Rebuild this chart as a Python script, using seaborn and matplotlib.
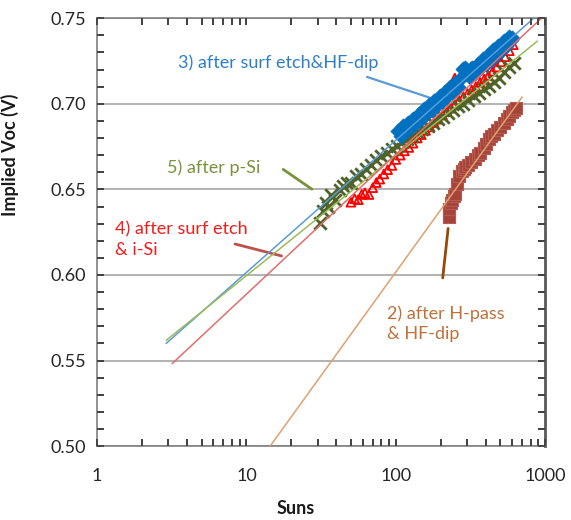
import matplotlib
matplotlib.use("Agg")
import matplotlib.pyplot as plt
import seaborn as sns
from matplotlib.ticker import MultipleLocator, LogLocator, FixedLocator, FixedFormatter, NullFormatter

# 3) after surf etch & HF-dip (blue diamonds)
blue_suns = [104, 108, 112, 117, 121, 126, 131, 136, 142, 148, 154, 160, 167, 174, 181, 188,
             196, 204, 212, 221, 230, 240, 250, 260, 271, 282, 290, 300, 312, 325, 338, 352,
             367, 382, 398, 414, 431, 449, 467, 486, 506, 527, 549, 571, 590, 600]
blue_voc = [0.6840, 0.6812, 0.6869, 0.6843, 0.6889, 0.6862, 0.6914, 0.6887, 0.6940, 0.6914,
            0.6972, 0.6939, 0.6993, 0.6966, 0.7019, 0.6991, 0.7044, 0.7018, 0.7070, 0.7043,
            0.7096, 0.7070, 0.7123, 0.7096, 0.7149, 0.7205, 0.7212, 0.7192, 0.7154, 0.7208,
            0.7180, 0.7234, 0.7207, 0.7260, 0.7233, 0.7286, 0.7258, 0.7312, 0.7285, 0.7338,
            0.7311, 0.7364, 0.7337, 0.7390, 0.7370, 0.7386]

# 4) after surf etch & i-Si (open red triangles)
red_suns = [50, 53, 56, 59, 62, 66, 70, 74, 78, 83, 88, 94, 100, 107, 114, 122, 130, 139, 148,
            158, 169, 180, 192, 205, 219, 233, 248, 265, 283, 302, 322, 343, 366, 390, 416,
            444, 473, 505, 538, 574, 610, 248]
red_voc = [0.6425, 0.6445, 0.6440, 0.6470, 0.6480, 0.6470, 0.6510, 0.6540, 0.6560, 0.6590,
           0.6615, 0.6640, 0.6675, 0.6700, 0.6725, 0.6745, 0.6770, 0.6800, 0.6820, 0.6845,
           0.6865, 0.6890, 0.6910, 0.6935, 0.6955, 0.6975, 0.6995, 0.7020, 0.7040, 0.7060,
           0.7080, 0.7100, 0.7125, 0.7145, 0.7165, 0.7190, 0.7215, 0.7245, 0.7275, 0.7310,
           0.7345, 0.7150]

# 5) after p-Si (olive crosses)
green_suns = [31, 32.5, 34, 35, 37, 39, 42, 44, 47, 50, 54, 58, 63, 68, 74, 80, 87, 94, 101,
              110, 119, 128, 139, 150, 163, 176, 190, 206, 223, 241, 261, 283, 306, 331, 358,
              388, 420, 454, 491, 532, 575, 620, 322, 345, 377]
green_voc = [0.6305, 0.6375, 0.6420, 0.6395, 0.6465, 0.6440, 0.6495, 0.6520, 0.6540, 0.6535,
             0.6580, 0.6590, 0.6620, 0.6645, 0.6670, 0.6696, 0.6715, 0.6735, 0.6754, 0.6775,
             0.6795, 0.6810, 0.6835, 0.6855, 0.6870, 0.6890, 0.6910, 0.6925, 0.6945, 0.6965,
             0.6985, 0.7000, 0.7020, 0.7045, 0.7065, 0.7085, 0.7105, 0.7125, 0.7150, 0.7185,
             0.7215, 0.7240, 0.7200, 0.7210, 0.7220]

# 2) after H-pass & HF-dip (brown squares)
brown_suns = [225, 228, 232, 238, 243, 249, 256, 265, 276, 285, 291, 305, 320, 339, 355, 367,
              387, 400, 418, 435, 451, 475, 500, 527, 550, 569, 595, 615, 637]
brown_voc = [0.6340, 0.6385, 0.6420, 0.6440, 0.6460, 0.6475, 0.6530, 0.6580, 0.6605, 0.6620,
             0.6628, 0.6645, 0.6660, 0.6675, 0.6700, 0.6715, 0.6744, 0.6765, 0.6793, 0.6810,
             0.6825, 0.6845, 0.6862, 0.6890, 0.6910, 0.6929, 0.6950, 0.6963, 0.6977]

# trend lines (end points)
blue_fit_suns, blue_fit_voc = [2.9, 1000], [0.560, 0.756]
green_fit_suns, green_fit_voc = [2.9, 885], [0.5618, 0.7366]
red_fit_suns, red_fit_voc = [3.18, 1000], [0.5482, 0.7521]
brown_fit_suns, brown_fit_voc = [14.4, 700], [0.500, 0.704]

x_ticks = [1, 10, 100, 1000]
x_labels = ["1", "10", "100", "1000"]

sns.set_theme(style="ticks")
plt.rcParams["font.family"] = ["Lato", "DejaVu Sans"]

rect = [0.170, 0.142, 0.785, 0.823]
fig = plt.figure(figsize=(5.71, 5.20), dpi=100)
ax = fig.add_axes(rect)

sns.scatterplot(x=red_suns, y=red_voc, marker="^", s=40, facecolor="none",
                edgecolor="#FF0000", linewidth=1.3, ax=ax, zorder=3)
sns.scatterplot(x=green_suns, y=green_voc, marker="x", s=80, color="#4F6228",
                linewidth=2, ax=ax, zorder=4)
sns.scatterplot(x=blue_suns, y=blue_voc, marker="D", s=60, color="#0070C0",
                edgecolor="#0070C0", linewidth=0.5, ax=ax, zorder=5)
sns.scatterplot(x=brown_suns, y=brown_voc, marker="s", s=75, color="#A3453A",
                edgecolor="#BA5A4E", linewidth=0.8, ax=ax, zorder=5)

for xs, ys, c in [(blue_fit_suns, blue_fit_voc, "#5B9BD5"),
                  (green_fit_suns, green_fit_voc, "#9BBB59"),
                  (red_fit_suns, red_fit_voc, "#E46C6C"),
                  (brown_fit_suns, brown_fit_voc, "#E0A070")]:
    sns.lineplot(x=xs, y=ys, color=c, lw=1.1, sort=False, estimator=None, ax=ax, zorder=6)


def setup_axis(a):
    a.set_xscale("log")
    a.set_xlim(1, 1000)
    a.set_ylim(0.50, 0.75)
    a.xaxis.set_major_locator(FixedLocator(x_ticks))
    a.xaxis.set_major_formatter(FixedFormatter(x_labels))
    a.xaxis.set_minor_locator(LogLocator(base=10, subs=range(2, 10)))
    a.xaxis.set_minor_formatter(NullFormatter())
    a.yaxis.set_major_locator(MultipleLocator(0.05))
    a.yaxis.set_minor_locator(MultipleLocator(0.01))
    a.yaxis.set_major_formatter(plt.FormatStrFormatter("%.2f"))
    a.tick_params(which="both", direction="in", bottom=True, left=True, top=True,
                  right=True, length=5, width=1.2, color="#404040", labelsize=13)


setup_axis(ax)
ax.tick_params(axis="x", which="major", pad=16)
ax.tick_params(axis="y", which="major", pad=8)
ax.grid(axis="y", which="major", color="#A6A6A6", lw=1.2)

for side in ["left", "top", "bottom"]:
    ax.spines[side].set_color("#7F7F7F")
    ax.spines[side].set_linewidth(1.2)
ax.spines["right"].set_color("#595959")
ax.spines["right"].set_linewidth(2)

ax.set_xlabel("Suns", fontsize=13, fontweight="bold", color="#1a1a1a")
ax.set_ylabel("Implied Voc (V)", fontsize=13, fontweight="bold", color="#1a1a1a")
ax.xaxis.set_label_coords(0.444, -0.125)
ax.yaxis.set_label_coords(-0.175, 0.68)

# annotations
ax.text(3.5, 0.724, "3) after surf etch&HF-dip", color="#2E7FC8", fontsize=13, va="center")
ax.annotate("", xy=(179, 0.7028), xytext=(61.5, 0.7162),
            arrowprops=dict(arrowstyle="-", color="#5B9BD5", lw=1.6))
ax.text(2.94, 0.6628, "5) after p-Si", color="#77933C", fontsize=13, va="center")
ax.annotate("", xy=(28.4, 0.6492), xytext=(17.0, 0.6626),
            arrowprops=dict(arrowstyle="-", color="#77933C", lw=2))
ax.text(1.32, 0.6207, "4) after surf etch\n& i-Si", color="#F21C1C", fontsize=13,
        va="center", linespacing=1.3)
ax.annotate("", xy=(17.9, 0.6107), xytext=(8.05, 0.6185),
            arrowprops=dict(arrowstyle="-", color="#C0504D", lw=2))
ax.text(87.8, 0.5717, "2) after H-pass\n& HF-dip", color="#C0703A", fontsize=13,
        va="center", linespacing=1.3)
ax.annotate("", xy=(224.7, 0.6288), xytext=(204.8, 0.5967),
            arrowprops=dict(arrowstyle="-", color="#984807", lw=2))

# plain overlay axes on the same box, only to carry the inward tick marks
ax_t = fig.add_axes(rect, frameon=False)
setup_axis(ax_t)
ax_t.tick_params(which="both", labelbottom=False, labelleft=False,
                 labeltop=False, labelright=False)
ax_t.set_zorder(ax.get_zorder() + 1)
ax_t.patch.set_visible(False)

fig.savefig("out.png", dpi=100, facecolor="white")
